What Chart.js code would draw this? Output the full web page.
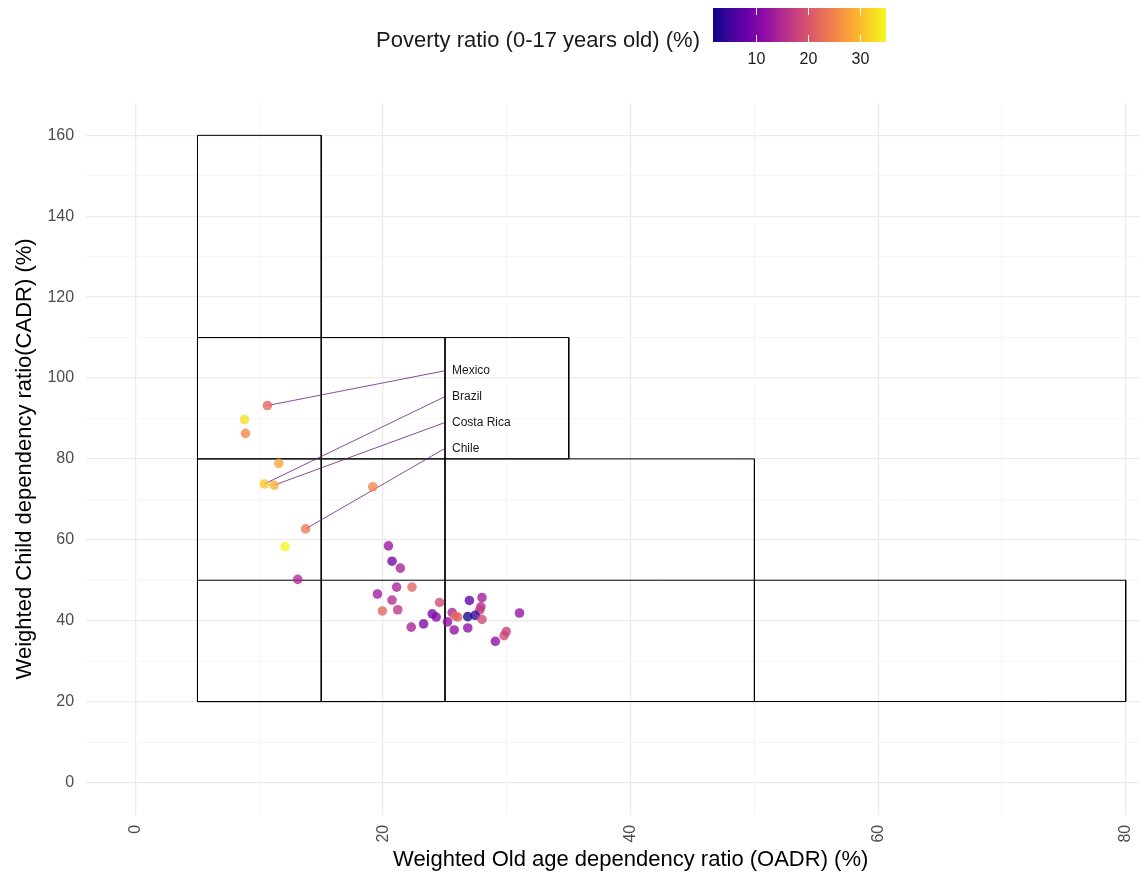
<!DOCTYPE html>
<html>
<head>
<meta charset="utf-8">
<script src="https://cdn.jsdelivr.net/npm/chart.js@4.4.1/dist/chart.umd.min.js"></script>
<style>
  html, body { margin: 0; padding: 0; background: #fff; overflow: hidden; }
  #wrap { width: 1180px; height: 877px; }
</style>
</head>
<body>
<div id="wrap"><canvas id="scatter-dependency" width="1180" height="877"></canvas></div>
<script>
// values
const oadr = [10.65, 8.8, 8.88, 11.57, 10.41, 11.19, 19.16, 13.74, 12.08, 13.1,
  20.43, 20.72, 21.39, 19.54, 21.09, 22.33, 20.72, 19.94, 21.18, 24.56,
  26.97, 27.99, 27.9, 27.8, 23.97, 24.29, 25.58, 25.82, 26.03, 26.84,
  27.43, 27.99, 25.2, 23.27, 22.27, 25.74, 26.84, 31.02, 29.07, 29.77, 29.95]
const cadr = [93.2, 89.7, 86.3, 78.9, 73.8, 73.5, 73.1, 62.7, 58.3, 50.2,
  58.5, 54.7, 53.0, 46.6, 48.3, 48.3, 45.1, 42.4, 42.7, 44.5,
  45.0, 45.7, 43.4, 42.6, 41.7, 40.9, 42.0, 41.1, 40.9, 41.0,
  41.3, 40.3, 39.7, 39.2, 38.4, 37.7, 38.2, 41.9, 34.9, 36.3, 37.3]
const poverty = [22, 33, 25, 28, 31, 29, 25, 24, 35, 15,
  12.5, 9, 14, 13, 14, 22, 15, 22, 16, 18.5,
  7, 13, 15, 17, 9.5, 10.5, 14.5, 22.5, 21.5, 2,
  4, 18.5, 11.5, 10, 14, 12, 11.5, 12, 11.5, 18.5, 17.5]

// labelled countries: index into the arrays above, and where the label sits
const countryNames = ['Mexico', 'Brazil', 'Costa Rica', 'Chile']
const countryIndex = [0, 4, 5, 7]
const countryLabelX = 25
const countryLabelY = [101.8, 95.4, 89.0, 82.6]

// the boxes
const rectX0 = [5, 5, 5, 5, 5]
const rectX1 = [15, 35, 25, 50, 80]
const rectY0 = [20, 80, 20, 20, 20]
const rectY1 = [160, 110, 110, 80, 50]

const xGrid = [0, 10, 20, 30, 40, 50, 60, 70, 80]
const xMajor = [0, 20, 40, 60, 80]
const yGrid = [0, 10, 20, 30, 40, 50, 60, 70, 80, 90, 100, 110, 120, 130, 140, 150, 160]
const yMajor = [0, 20, 40, 60, 80, 100, 120, 140, 160]
const povertyTicks = [10, 20, 30]
const povertyMin = 1.7
const povertyMax = 35

const FONT = 'Liberation Sans, Arial, sans-serif'

// plasma palette
const plasmaStops = ['#0d0887', '#41049d', '#6a00a8', '#8f0da4', '#b12a90', '#cc4778',
  '#e16462', '#f2844b', '#fca636', '#fcce25', '#f0f921']

function hexRgb(h) {
  return [parseInt(h.slice(1, 3), 16), parseInt(h.slice(3, 5), 16), parseInt(h.slice(5, 7), 16)]
}

function plasma(v, alpha) {
  let t = (v - povertyMin) / (povertyMax - povertyMin)
  t = Math.max(0, Math.min(1, t))
  const pos = t * (plasmaStops.length - 1)
  const i = Math.min(Math.floor(pos), plasmaStops.length - 2)
  const f = pos - i
  const a = hexRgb(plasmaStops[i]), b = hexRgb(plasmaStops[i + 1])
  const c = a.map((x, k) => Math.round(x + (b[k] - x) * f))
  return `rgba(${c[0]},${c[1]},${c[2]},${alpha})`
}

const points = oadr.map((x, i) => ({ x: x, y: cadr[i] }))

const rectSets = rectX0.map((x0, i) => ({
  type: 'line',
  data: [
    { x: x0, y: rectY0[i] }, { x: x0, y: rectY1[i] },
    { x: rectX1[i], y: rectY1[i] }, { x: rectX1[i], y: rectY0[i] },
    { x: x0, y: rectY0[i] }
  ],
  borderColor: '#000',
  borderWidth: 1,
  pointRadius: 0,
  fill: false,
  tension: 0,
  order: 3,
}))

const segmentSets = countryIndex.map((idx, i) => ({
  type: 'line',
  data: [{ x: oadr[idx], y: cadr[idx] }, { x: countryLabelX, y: countryLabelY[i] }],
  borderColor: 'rgba(95,15,125,0.75)',
  borderWidth: 1,
  pointRadius: 0,
  fill: false,
  order: 2,
}))

// colour bar + country labels
const extras = {
  id: 'extras',
  afterDatasetsDraw(chart) {
    const ctx = chart.ctx
    const xs = chart.scales.x, ys = chart.scales.y
    ctx.save()
    ctx.font = '12px ' + FONT
    ctx.fillStyle = '#1a1a1a'
    ctx.textAlign = 'left'
    ctx.textBaseline = 'middle'
    countryNames.forEach((n, i) => {
      ctx.fillText(n, xs.getPixelForValue(countryLabelX) + 7, ys.getPixelForValue(countryLabelY[i]))
    })
    ctx.restore()
  },
  afterDraw(chart) {
    const ctx = chart.ctx
    const left = 713, right = 886, top = 8, bottom = 42
    ctx.save()
    const g = ctx.createLinearGradient(left, 0, right, 0)
    plasmaStops.forEach((c, i) => g.addColorStop(i / (plasmaStops.length - 1), c))
    ctx.fillStyle = g
    ctx.fillRect(left, top, right - left, bottom - top)
    ctx.strokeStyle = '#fff'
    ctx.lineWidth = 1
    ctx.font = '16px ' + FONT
    ctx.fillStyle = '#1a1a1a'
    ctx.textAlign = 'center'
    ctx.textBaseline = 'middle'
    povertyTicks.forEach(v => {
      const px = Math.round(left + (v - povertyMin) / (povertyMax - povertyMin) * (right - left)) + 0.5
      ctx.beginPath()
      ctx.moveTo(px, top); ctx.lineTo(px, top + 7)
      ctx.moveTo(px, bottom); ctx.lineTo(px, bottom - 7)
      ctx.stroke()
      ctx.fillText(String(v), px, 60)
    })
    ctx.font = '22px ' + FONT
    ctx.textAlign = 'right'
    ctx.fillText('Poverty ratio (0-17 years old) (%)', 700, 41)
    ctx.restore()
  }
}

const gridColor = (major) => (c) => major.includes(c.tick.value) ? '#ebebeb' : '#f4f4f4'
const gridWidth = (major) => (c) => major.includes(c.tick.value) ? 1.3 : 0.8

const config = {
  type: 'scatter',
  data: {
    datasets: [
      {
        type: 'scatter',
        data: points,
        backgroundColor: poverty.map(p => plasma(p, 0.78)),
        borderWidth: 0,
        pointRadius: 4.8,
        order: 1,
      },
      ...segmentSets,
      ...rectSets,
    ],
  },
  options: {
    responsive: false,
    animation: false,
    layout: { padding: { top: 103, right: 2, left: 0, bottom: 0 } },
    plugins: { legend: { display: false }, tooltip: { enabled: false } },
    scales: {
      x: {
        type: 'linear',
        min: -4,
        max: 84,
        afterBuildTicks: axis => { axis.ticks = xGrid.map(v => ({ value: v })) },
        ticks: {
          autoSkip: false,
          minRotation: 90,
          maxRotation: 90,
          padding: 10,
          color: '#4d4d4d',
          font: { family: FONT, size: 16 },
          callback: v => xMajor.includes(v) ? String(v) : '',
        },
        grid: { color: gridColor(xMajor), lineWidth: gridWidth(xMajor), drawTicks: false },
        border: { display: false },
        title: {
          display: true,
          text: 'Weighted Old age dependency ratio (OADR) (%)',
          color: '#000',
          font: { family: FONT, size: 22 },
          padding: { top: -6, bottom: 4 },
        },
      },
      y: {
        type: 'linear',
        min: -8,
        max: 168,
        afterBuildTicks: axis => { axis.ticks = yGrid.map(v => ({ value: v })) },
        ticks: {
          autoSkip: false,
          padding: 12,
          color: '#4d4d4d',
          font: { family: FONT, size: 16 },
          callback: v => yMajor.includes(v) ? String(v) : '',
        },
        grid: { color: gridColor(yMajor), lineWidth: gridWidth(yMajor), drawTicks: false },
        border: { display: false },
        title: {
          display: true,
          text: 'Weighted Child dependency ratio(CADR) (%)',
          color: '#000',
          font: { family: FONT, size: 22 },
          padding: { top: 12, bottom: -3 },
        },
      },
    },
  },
  plugins: [extras],
}

const el = document.getElementById('scatter-dependency')
window.myScatter = new Chart(el, config)
</script>
</body>
</html>
